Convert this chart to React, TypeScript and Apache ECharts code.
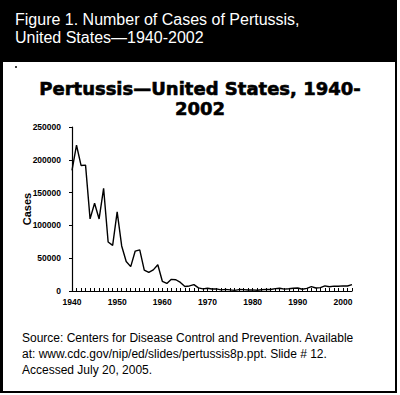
import React, { useEffect, useRef } from "react";
import * as echarts from "echarts";

const years: number[] = [];
for (let y = 1940; y <= 2002; y++) years.push(y);

const cases: number[] = [
  183866, 222202, 191383, 191890, 109873, 133792, 109860, 156517, 74715, 69479,
  120718, 68687, 45030, 37129, 60886, 62786, 31732, 28295, 32148, 40005,
  14809, 11468, 17749, 17135, 13005, 6799, 7717, 9718, 4810, 3285,
  4249, 3036, 3287, 1759, 2402, 1738, 1010, 2177, 2063, 1623,
  1730, 1248, 1895, 2463, 2276, 3589, 4195, 2823, 3450, 4157,
  4570, 2719, 4083, 6586, 4617, 5137, 7796, 6564, 7405, 7288,
  7867, 7580, 9771,
];

const headerLines = ["Figure 1. Number of Cases of Pertussis,", "United States\u20141940-2002"];
const chartTitle = "Pertussis\u2014United States, 1940-\n2002";
const yAxisName = "Cases";
const sourceText =
  "Source: Centers for Disease Control and Prevention. Available\nat: www.cdc.gov/nip/ed/slides/pertussis8p.ppt. Slide # 12.\nAccessed July 20, 2005.";

export default function App() {
  const ref = useRef<HTMLDivElement>(null);
  useEffect(() => {
    document.body.style.margin = "0";
    const chart = echarts.init(ref.current!, null, { renderer: "svg" });
    const data = years.map((y, i) => [y, cases[i]]);
    chart.setOption({
      animation: false,
      backgroundColor: "#ffffff",
      grid: { left: 72, right: 48, top: 127, bottom: 104, containLabel: false },
      xAxis: {
        type: "value",
        min: 1940,
        max: 2002,
        interval: 1,
        splitLine: { show: false },
        axisLine: { lineStyle: { color: "#000", width: 1.2 } },
        axisTick: { show: true, inside: true, length: 3, lineStyle: { color: "#000", width: 1 } },
        axisLabel: {
          margin: 6,
          fontFamily: "Arial",
          fontWeight: "bold",
          fontSize: 8.5,
          color: "#000",
          formatter: (v: number) => (v % 10 === 0 && v <= 2000 ? String(v) : ""),
        },
      },
      yAxis: {
        type: "value",
        min: 0,
        max: 250000,
        interval: 50000,
        name: yAxisName,
        nameLocation: "middle",
        nameGap: 40,
        nameMoveOverlap: false,
        nameRotate: 90,
        nameTextStyle: { fontFamily: "Arial", fontWeight: "bold", fontSize: 11, color: "#000" },
        splitLine: { show: false },
        axisLine: { show: true, lineStyle: { color: "#000", width: 1.2 } },
        axisTick: { show: true, length: 3, lineStyle: { color: "#000" } },
        axisLabel: {
          margin: 11,
          fontFamily: "Arial",
          fontWeight: "bold",
          fontSize: 8.5,
          color: "#000",
          formatter: (v: number) => String(v),
        },
      },
      series: [
        {
          type: "line",
          data,
          symbol: "none",
          lineStyle: { color: "#000", width: 1.4 },
        },
      ],
      graphic: [
        { type: "rect", shape: { x: 0, y: 0, width: 397, height: 62 }, style: { fill: "#000" }, z: 10 },
        { type: "rect", shape: { x: 0, y: 0, width: 3, height: 393 }, style: { fill: "#000" }, z: 10 },
        { type: "rect", shape: { x: 395, y: 0, width: 2, height: 393 }, style: { fill: "#000" }, z: 10 },
        { type: "rect", shape: { x: 0, y: 391, width: 397, height: 2 }, style: { fill: "#000" }, z: 10 },
        { type: "rect", shape: { x: 15, y: 66, width: 2, height: 2 }, style: { fill: "#444" }, z: 10 },
        {
          type: "text",
          x: 15,
          y: 10,
          z: 11,
          style: {
            text: headerLines.join("\n"),
            fill: "#fff",
            font: "16px Arial",
            lineHeight: 18,
          },
        },
        {
          type: "text",
          x: 200,
          y: 78,
          z: 11,
          style: {
            text: chartTitle,
            fill: "#000",
            font: "bold 18px 'DejaVu Sans'",
            lineHeight: 20,
            align: "center",
            stroke: "#000",
            lineWidth: 0.6,
          },
        },
        {
          type: "text",
          x: 22,
          y: 330,
          z: 11,
          style: {
            text: sourceText,
            fill: "#000",
            font: "12px Arial",
            lineHeight: 16,
          },
        },
      ],
    });
    return () => chart.dispose();
  }, []);
  return <div ref={ref} style={{ width: 400, height: 395 }} />;
}
